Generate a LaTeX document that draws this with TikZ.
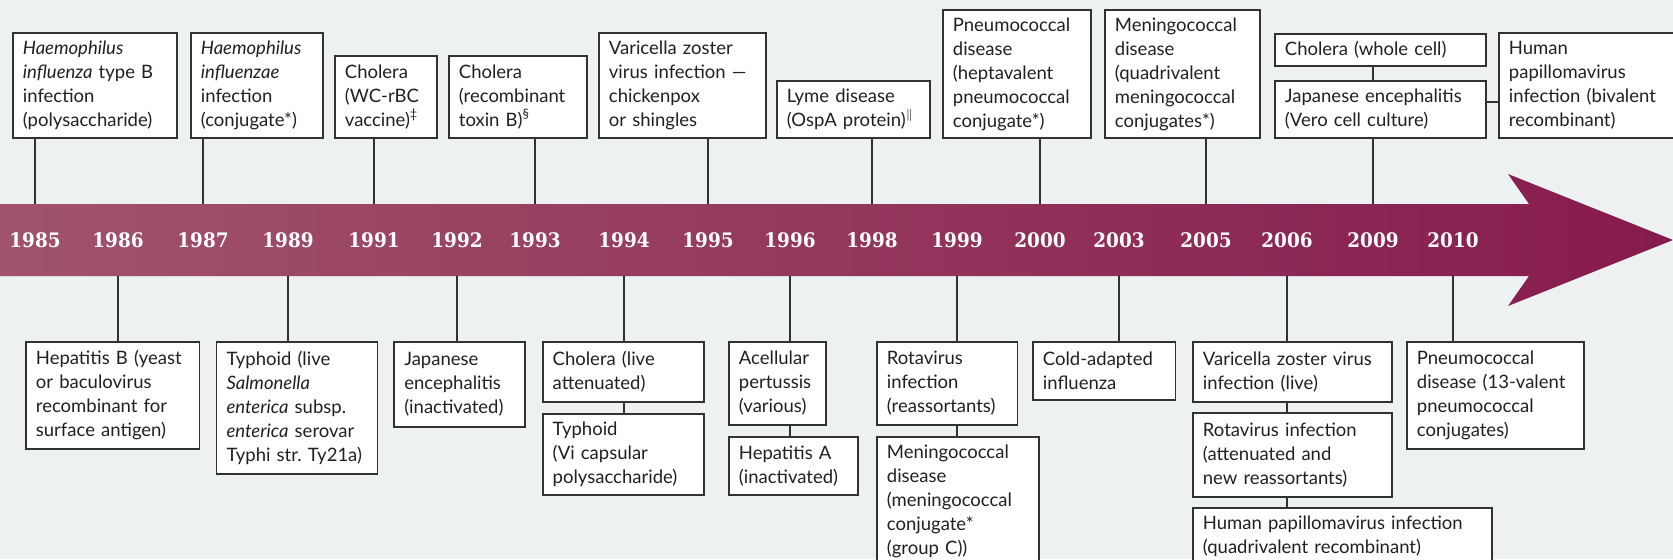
\documentclass[tikz,border=0pt]{standalone}
\usepackage{fontspec}
\setmainfont{Lato}
\newfontfamily\yearfont[FakeStretch=0.92]{DejaVu Serif}
\definecolor{bg}{RGB}{237,241,241}
\definecolor{bandL}{RGB}{161,83,107}
\definecolor{bandR}{RGB}{134,27,78}
\definecolor{ink}{RGB}{35,31,32}
\definecolor{edge}{RGB}{50,50,50}
\frenchspacing
\begin{document}
\begin{tikzpicture}[x=0.5pt,y=-0.5pt,
  box/.style={draw=edge, line width=0.9pt, fill=white, anchor=north west,
    inner xsep=5pt, inner ysep=0pt, align=left, text=ink,
    font=\fontsize{9.25pt}{12pt}\selectfont},
  yr/.style={text=white, font=\yearfont\bfseries\fontsize{10pt}{12pt}\selectfont,
    inner sep=0pt, anchor=center},
  conn/.style={draw=edge, line width=0.8pt}]
\useasboundingbox (0,0) rectangle (1673,559);
\fill[bg] (0,0) rectangle (1673,559);
\clip (0,0) rectangle (1673,559);
\coordinate (bandtop) at (0,204);
\coordinate (bandbot) at (0,276);
\coordinate (hj) at (0,102);
% band arrow
\shade[left color=bandL, right color=bandR]
  (0,204) -- (1529,204) -- (1508,174) -- (1673,240) -- (1508,306) -- (1529,276) -- (0,276) -- cycle;
% years
\foreach \yy/\xx in {1985/35,1986/118,1987/203,1989/288,1991/374,1992/457,1993/535,1994/624,1995/708,1996/790,1998/872,1999/957,2000/1040,2003/1119,2005/1206,2006/1287,2009/1373,2010/1453}
  \node[yr] (y\yy) at (\xx,240.5) {\yy};
% top boxes
\node[box, minimum width=82pt, minimum height=52.5pt, text width=72pt] (T1) at (12,32) {\textit{Haemophilus}\\\textit{influenza} type B\\infection\\(polysaccharide)};
\node[box, minimum width=66pt, minimum height=52.5pt, text width=56pt] (T2) at (190,32) {\textit{Haemophilus}\\\textit{influenzae}\\infection\\(conjugate*)};
\node[box, minimum width=51pt, minimum height=41pt, text width=41pt] (T3) at (334,55) {Cholera\\(WC-rBC\\vaccine)\textsuperscript{\ddag}};
\node[box, minimum width=69pt, minimum height=41pt, text width=59pt] (T4) at (448,55) {Cholera\\(recombinant\\toxin B)\textsuperscript{\S}};
\node[box, minimum width=83.5pt, minimum height=52.5pt, text width=73.5pt] (T5) at (598,32) {Varicella zoster\\virus infection —\\chickenpox\\or shingles};
\node[box, minimum width=76.5pt, minimum height=28.5pt, text width=66.5pt] (T6) at (776,80) {Lyme disease\\(OspA protein)\textsuperscript{$\|$}};
\node[box, minimum width=74pt, minimum height=64pt, text width=64pt] (T7) at (942,9) {Pneumococcal\\disease\\(heptavalent\\pneumococcal\\conjugate*)};
\node[box, minimum width=77.5pt, minimum height=64pt, text width=67.5pt] (T8) at (1104,9) {Meningococcal\\disease\\(quadrivalent\\meningococcal\\conjugates*)};
\node[box, minimum width=105.5pt, minimum height=16pt, text width=95.5pt] (T9) at (1274,33) {Cholera (whole cell)};
\node[box, minimum width=105.5pt, minimum height=28.5pt, text width=95.5pt] (T10) at (1274,80) {Japanese encephalitis\\(Vero cell culture)};
\node[box, minimum width=101pt, minimum height=52.5pt, text width=91pt] (T11) at (1498,32) {Human\\papillomavirus\\infection (bivalent\\recombinant)};
% bottom boxes
\node[box, minimum width=86.75pt, minimum height=53.5pt, text width=76.75pt] (B1) at (25,341) {Hepatitis B (yeast\\or baculovirus\\recombinant for\\surface antigen)};
\node[box, minimum width=80.5pt, minimum height=65.85pt, text width=70.5pt] (B2) at (215.6,341) {Typhoid (live\\\textit{Salmonella}\\\textit{enterica} subsp.\\\textit{enterica} serovar\\\mbox{Typhi str. Ty21a)}};
\node[box, minimum width=65.5pt, minimum height=42.35pt, text width=55.5pt] (B3) at (393.4,341) {Japanese\\encephalitis\\(inactivated)};
\node[box, minimum width=80.5pt, minimum height=29.85pt, text width=70.5pt] (B4) at (541.8,341) {Cholera (live\\attenuated)};
\node[box, minimum width=80.5pt, minimum height=40.2pt, text width=70.5pt] (B5) at (541.8,413.3) {Typhoid\\(Vi capsular\\polysaccharide)};
\node[box, minimum width=48.5pt, minimum height=41.5pt, text width=38.5pt] (B6) at (728,341) {Acellular\\pertussis\\(various)};
\node[box, minimum width=64.35pt, minimum height=28.85pt, text width=54.35pt] (B7) at (728,436) {Hepatitis A\\(inactivated)};
\node[box, minimum width=70.3pt, minimum height=41.5pt, text width=60.3pt] (B8) at (876,341) {Rotavirus\\infection\\(reassortants)};
\node[box, minimum width=81.2pt, minimum height=64.5pt, text width=71.2pt] (B9) at (876,436) {Meningococcal\\disease\\(meningococcal\\conjugate*\\(group C))};
\node[box, minimum width=71.25pt, minimum height=28.85pt, text width=61.25pt] (B10) at (1032,341) {Cold-adapted\\influenza};
\node[box, minimum width=99.35pt, minimum height=29.85pt, text width=89.35pt] (B11) at (1192,341) {Varicella zoster virus\\infection (live)};
\node[box, minimum width=99.35pt, minimum height=41.85pt, text width=89.35pt] (B12) at (1192,412) {Rotavirus infection\\(attenuated and\\new reassortants)};
\node[box, minimum width=149.5pt, minimum height=28.6pt, text width=139.5pt] (B13) at (1192,506.7) {Human papillomavirus infection\\(quadrivalent recombinant)};
\node[box, minimum width=88.5pt, minimum height=53.65pt, text width=78.5pt] (B14) at (1406,341) {Pneumococcal\\disease (13-valent\\pneumococcal\\conjugates)};
% connectors top
\draw[conn] (T1.south -| y1985) -- (y1985 |- bandtop);
\draw[conn] (T2.south -| y1987) -- (y1987 |- bandtop);
\draw[conn] (T3.south -| y1991) -- (y1991 |- bandtop);
\draw[conn] (T4.south -| y1993) -- (y1993 |- bandtop);
\draw[conn] (T5.south -| y1995) -- (y1995 |- bandtop);
\draw[conn] (T6.south -| y1998) -- (y1998 |- bandtop);
\draw[conn] (T7.south -| y2000) -- (y2000 |- bandtop);
\draw[conn] (T8.south -| y2005) -- (y2005 |- bandtop);
\draw[conn] (T10.south -| y2009) -- (y2009 |- bandtop);
\draw[conn] (T9.south -| y2009) -- (T10.north -| y2009);
\draw[conn] (T10.east |- hj) -- (T11.west |- hj);
% connectors bottom
\draw[conn] (y1986 |- bandbot) -- (B1.north -| y1986);
\draw[conn] (y1989 |- bandbot) -- (B2.north -| y1989);
\draw[conn] (y1992 |- bandbot) -- (B3.north -| y1992);
\draw[conn] (y1994 |- bandbot) -- (B4.north -| y1994);
\draw[conn] (B4.south -| y1994) -- (B5.north -| y1994);
\draw[conn] (y1996 |- bandbot) -- (B6.north -| y1996);
\draw[conn] (B6.south -| y1996) -- (B7.north -| y1996);
\draw[conn] (y1999 |- bandbot) -- (B8.north -| y1999);
\draw[conn] (B8.south -| y1999) -- (B9.north -| y1999);
\draw[conn] (y2003 |- bandbot) -- (B10.north -| y2003);
\draw[conn] (y2006 |- bandbot) -- (B11.north -| y2006);
\draw[conn] (B11.south -| y2006) -- (B12.north -| y2006);
\draw[conn] (B12.south -| y2006) -- (B13.north -| y2006);
\draw[conn] (y2010 |- bandbot) -- (B14.north -| y2010);
\end{tikzpicture}
\end{document}
